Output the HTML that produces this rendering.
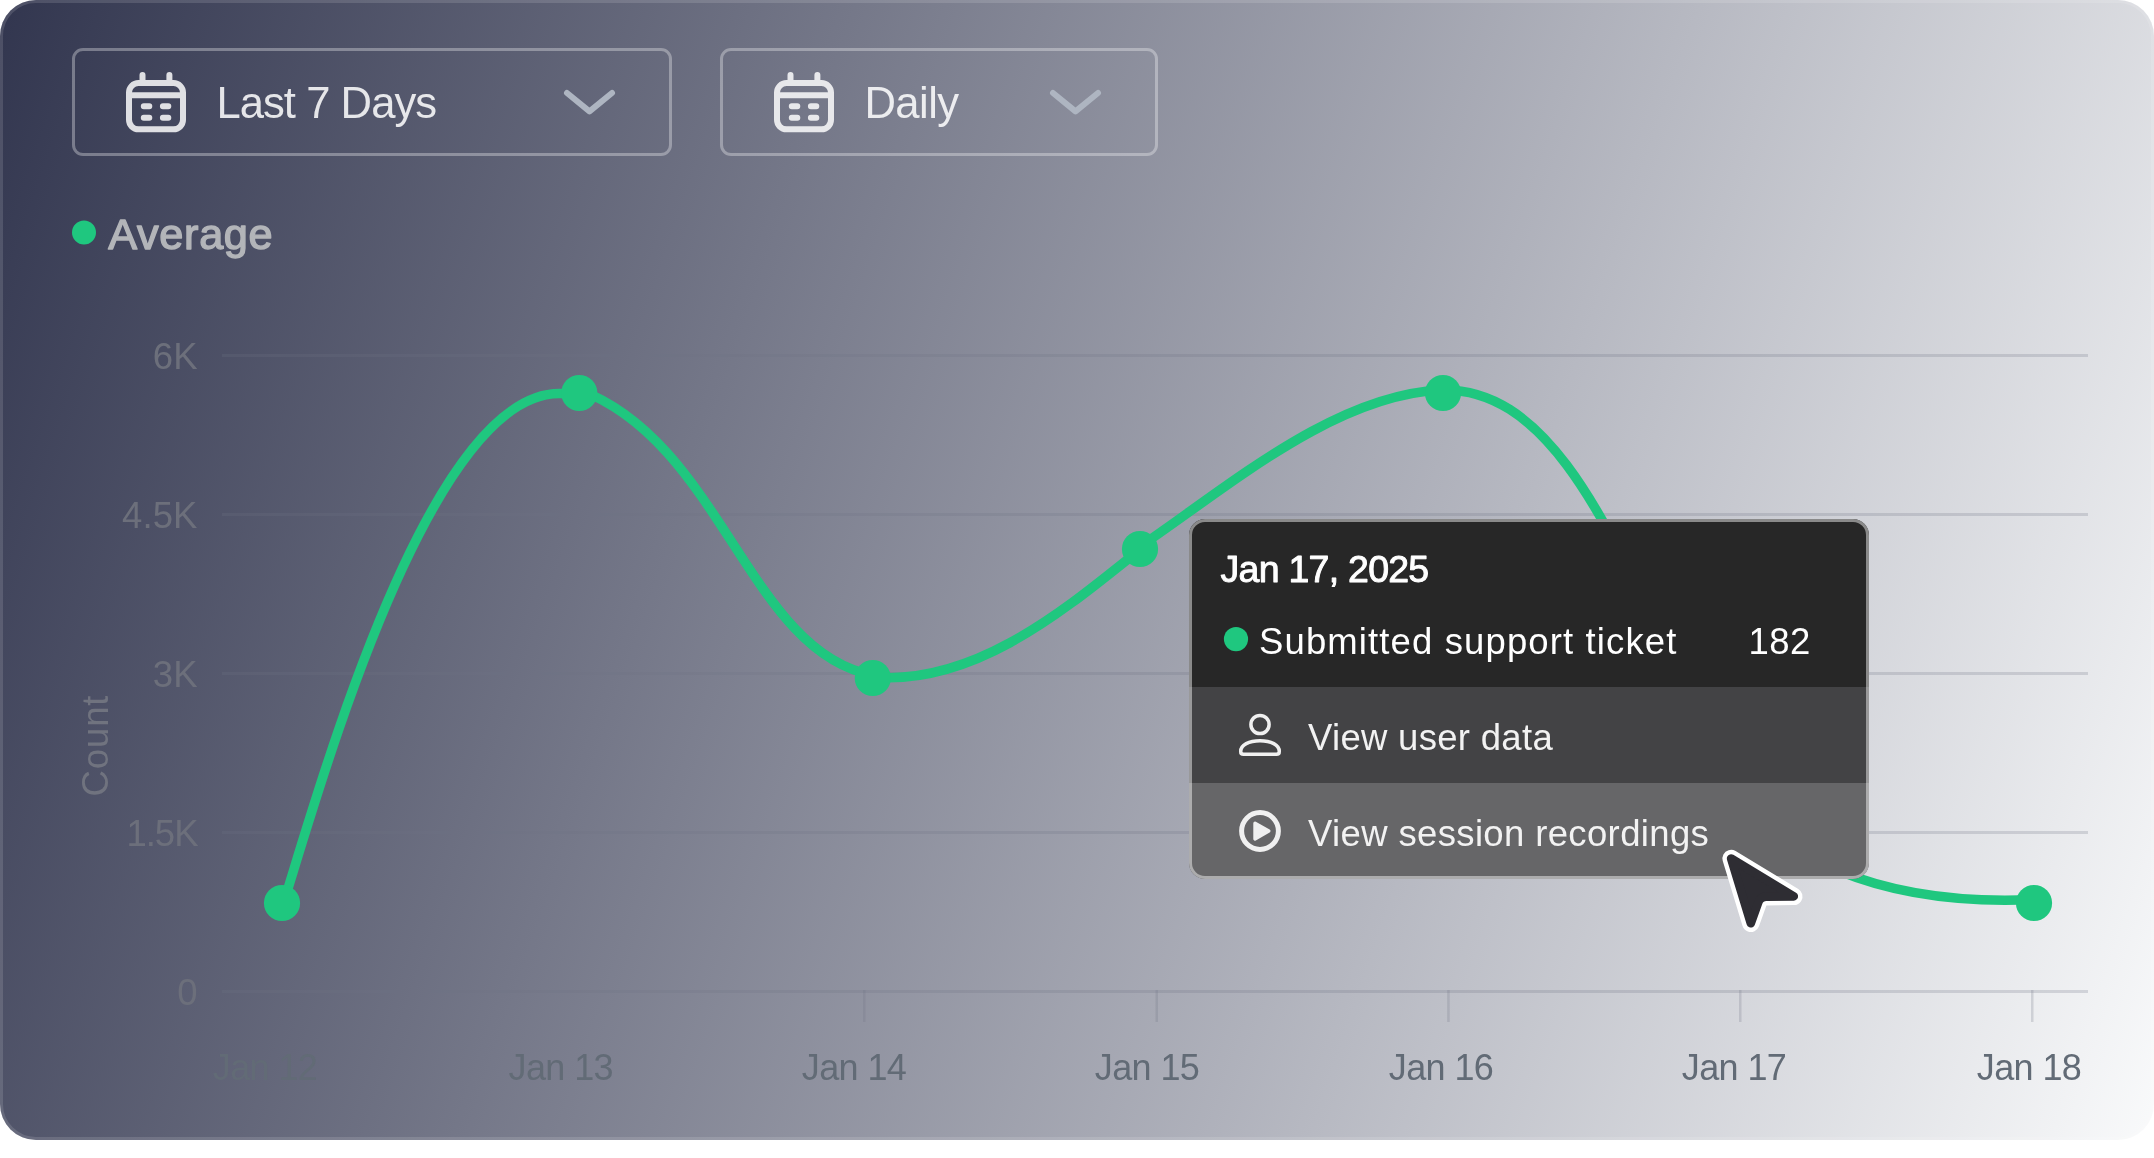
<!DOCTYPE html>
<html lang="en">
<head>
<meta charset="utf-8">
<title>Average chart</title>
<style>
  html, body { margin: 0; padding: 0; background: #ffffff; }
  body { width: 2154px; height: 1158px; position: relative; overflow: hidden;
         font-family: "Liberation Sans", sans-serif; }
  .card { position: absolute; left: 0; top: 0; width: 2154px; height: 1140px;
          box-sizing: border-box; border-radius: 36px;
          background: linear-gradient(109deg, #32364f 0%, #f9fafb 100%);
          overflow: hidden; }
  .card::after { content: ""; position: absolute; inset: 0; border-radius: 36px;
          border: 3px solid rgba(255,255,255,0.13); box-sizing: border-box; pointer-events: none; }
  svg { position: absolute; left: 0; top: 0; will-change: transform; }
  text { font-family: "Liberation Sans", sans-serif; }

  .dd { position: absolute; top: 48px; height: 108px; box-sizing: border-box;
        border: 3px solid rgba(255,255,255,0.32); border-radius: 11px; }
  .dd1 { left: 72px; width: 600px; }
  .dd2 { left: 720px; width: 438px; }

  .tip { position: absolute; left: 1188.5px; top: 519.3px; width: 680.5px; height: 359.7px;
         box-sizing: border-box; border-radius: 16px; overflow: hidden; }
  .tip::after { content: ""; position: absolute; inset: 0; border-radius: 16px;
         border: 3px solid rgba(255,255,255,0.46); box-sizing: border-box; }
  .tip .s1 { position: absolute; left: 0; top: 0; width: 100%; height: 167.5px; background: #272727; }
  .tip .s2 { position: absolute; left: 0; top: 167.5px; width: 100%; height: 96px; background: #434345; }
  .tip .s3 { position: absolute; left: 0; top: 263.5px; width: 100%; height: 96.2px; background: #666668; }
</style>
</head>
<body>
<div class="card">
  <div class="dd dd1"></div>
  <div class="dd dd2"></div>

  <!-- chart layer -->
  <svg width="2154" height="1140" viewBox="0 0 2154 1140">
    <!-- grid -->
    <g fill="rgba(112,114,130,0.235)">
      <rect x="222" y="354" width="1866" height="3"/>
      <rect x="222" y="513" width="1866" height="3"/>
      <rect x="222" y="672" width="1866" height="3"/>
      <rect x="222" y="831" width="1866" height="3"/>
      <rect x="222" y="990" width="1866" height="3"/>
      <rect x="863" y="990" width="2.5" height="32"/>
      <rect x="1155.5" y="990" width="2.5" height="32"/>
      <rect x="1447.2" y="990" width="2.5" height="32"/>
      <rect x="1739" y="990" width="2.5" height="32"/>
      <rect x="2031" y="990" width="2.5" height="32"/>
    </g>

    <!-- y labels -->
    <g font-size="36.5" fill="#6c6f7b" text-anchor="end">
      <text x="197.5" y="369">6K</text>
      <text x="197.5" y="528" letter-spacing="0.1">4.5K</text>
      <text x="197.5" y="687">3K</text>
      <text x="197.5" y="846" letter-spacing="-1">1.5K</text>
      <text x="197.5" y="1005">0</text>
    </g>
    <text transform="translate(108.3 796.5) rotate(-90)" font-size="36.5" letter-spacing="0.9" fill="#70737f">Count</text>

    <!-- x labels -->
    <g font-size="36" fill="#626b76" text-anchor="middle" letter-spacing="-0.6">
      <text x="265" y="1079.5">Jan 12</text>
      <text x="560.8" y="1079.5">Jan 13</text>
      <text x="854" y="1079.5">Jan 14</text>
      <text x="1147" y="1079.5">Jan 15</text>
      <text x="1441" y="1079.5">Jan 16</text>
      <text x="1734" y="1079.5">Jan 17</text>
      <text x="2029" y="1079.5">Jan 18</text>
    </g>

    <!-- series -->
    <path d="M 283.5 903.0 C 323.1 776.5 436.5 369.0 571.8 394.8 L 579.1 389.6 C 721.5 442.5 749.1 652.6 873.0 675.2 L 870.7 676.9 C 975.0 686.9 1067.5 607.4 1139.1 550.2 L 1137.5 548.3 C 1227.2 487.8 1333.6 394.9 1441.0 390.0 C 1575.7 386.7 1631.6 597.2 1740.0 793.0 C 1771.9 850.6 1872.1 906.8 2034.0 899.5"
          fill="none" stroke="#1fc77f" stroke-width="9.5" stroke-linecap="round" stroke-linejoin="round"/>
    <g fill="#1fc77f">
      <circle cx="282" cy="903" r="18.1"/>
      <circle cx="579.3" cy="393" r="18.1"/>
      <circle cx="872.8" cy="678" r="18.1"/>
      <circle cx="1140" cy="549" r="18.1"/>
      <circle cx="1443" cy="393" r="18.1"/>
      <circle cx="1740" cy="795" r="18.1"/>
      <circle cx="2034" cy="903" r="18.1"/>
    </g>

    <!-- legend -->
    <circle cx="84" cy="232.4" r="12" fill="#1fc77f"/>
    <text x="108.3" y="249.3" font-size="43.3" fill="#b3b5b9" stroke="#b3b5b9" stroke-width="1.4" stroke-linejoin="round" letter-spacing="0.65">Average</text>

    <!-- dropdown 1 contents -->
    <g fill="none" stroke="#ffffff" opacity="0.83" stroke-width="6" stroke-linecap="round" stroke-linejoin="round">
      <rect x="129" y="83" width="54" height="46.3" rx="9.5" ry="9.5"/>
      <path d="M129 95.2H183"/>
      <path d="M142.5 75V83M169.4 75V83"/>
      <path d="M143.8 106.2H149.3M162.9 106.2H168.3M143.8 117.8H149.3M162.9 117.8H168.3"/>
    </g>
    <text x="216.4" y="118.2" font-size="43.6" fill="rgba(255,255,255,0.86)" letter-spacing="-0.95">Last 7 Days</text>
    <path d="M567 93L589.5 111.3L612 93" fill="none" stroke="#aeb5c1" stroke-width="6" stroke-linecap="round" stroke-linejoin="round"/>

    <!-- dropdown 2 contents -->
    <g fill="none" stroke="#ffffff" opacity="0.83" stroke-width="6" stroke-linecap="round" stroke-linejoin="round" transform="translate(648 0)">
      <rect x="129" y="83" width="54" height="46.3" rx="9.5" ry="9.5"/>
      <path d="M129 95.2H183"/>
      <path d="M142.5 75V83M169.4 75V83"/>
      <path d="M143.8 106.2H149.3M162.9 106.2H168.3M143.8 117.8H149.3M162.9 117.8H168.3"/>
    </g>
    <text x="864.4" y="118.2" font-size="43.6" fill="rgba(255,255,255,0.86)" letter-spacing="-0.55">Daily</text>
    <path d="M1053 93L1075.5 111.3L1098 93" fill="none" stroke="#aeb5c1" stroke-width="6" stroke-linecap="round" stroke-linejoin="round"/>
  </svg>

  <!-- tooltip -->
  <div class="tip"><div class="s1"></div><div class="s2"></div><div class="s3"></div></div>

  <!-- tooltip contents + cursor -->
  <svg width="2154" height="1140" viewBox="0 0 2154 1140">
    <text x="1220.6" y="582.3" font-size="37.5" fill="#ffffff" stroke="#ffffff" stroke-width="0.95" stroke-linejoin="round" letter-spacing="-0.75">Jan 17, 2025</text>
    <circle cx="1236" cy="639.1" r="12.1" fill="#1fc77f"/>
    <text x="1259" y="654.3" font-size="36.5" fill="#ffffff" letter-spacing="1.12">Submitted support ticket</text>
    <text x="1748.6" y="654.3" font-size="36.5" fill="#ffffff" letter-spacing="0.4">182</text>

    <!-- user icon -->
    <g fill="none" stroke="#f0f0f0" stroke-width="3.5" stroke-linejoin="round">
      <circle cx="1260" cy="724.5" r="9.1"/>
      <path d="M1240.7 751.4C1240.7 745 1249 740.7 1260 740.7S1279.3 745 1279.3 751.4Q1279.3 754.3 1276.4 754.3H1243.6Q1240.7 754.3 1240.7 751.4Z"/>
    </g>
    <text x="1308" y="750.3" font-size="36.5" fill="#f2f2f2" letter-spacing="0.3">View user data</text>

    <!-- play icon -->
    <circle cx="1260" cy="831" r="18.4" fill="none" stroke="#f0f0f0" stroke-width="5"/>
    <path d="M1255 823.2L1268.8 831.1L1255 839Z" fill="#f0f0f0" stroke="#f0f0f0" stroke-width="3.4" stroke-linejoin="round"/>
    <text x="1308" y="846.2" font-size="36.5" fill="#f2f2f2" letter-spacing="0.36">View session recordings</text>

    <!-- cursor -->
    <path d="M1731.1 858.5L1793.8 896.4L1766.3 896.7Q1760.3 896.8 1758.3 902.4L1750.8 923.3Z" fill="#ffffff" stroke="#ffffff" stroke-width="17.4" stroke-linejoin="round"/>
    <path d="M1731.1 858.5L1793.8 896.4L1766.3 896.7Q1760.3 896.8 1758.3 902.4L1750.8 923.3Z" fill="#2e2d33" stroke="#2e2d33" stroke-width="8.6" stroke-linejoin="round"/>
  </svg>
</div>
</body>
</html>
